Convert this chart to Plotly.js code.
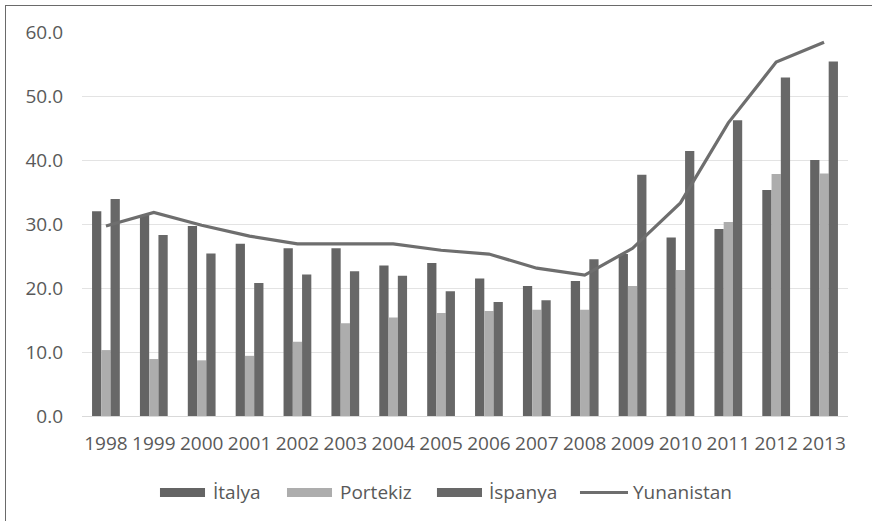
<!DOCTYPE html>
<html>
<head>
<meta charset="utf-8">
<script src="https://cdn.plot.ly/plotly-3.0.1.min.js"></script>
<style>
html, body { margin: 0; padding: 0; background: #ffffff; overflow: hidden; }
#frame { position: absolute; left: 5px; top: 5px; width: 900px; height: 600px;
  border-left: 1.5px solid #6a6a6a; border-top: 1.5px solid #6a6a6a; pointer-events: none; z-index: 5; }
#chart { position: absolute; left: 0; top: 0; width: 872px; height: 521px; }
</style>
</head>
<body>
<div id="chart"></div>
<div id="frame"></div>
<script>
const years = ['1998','1999','2000','2001','2002','2003','2004','2005','2006','2007','2008','2009','2010','2011','2012','2013'];
const seriesNames = ['İtalya', 'Portekiz', 'İspanya', 'Yunanistan'];
const italya   = [32.0, 31.4, 29.7, 26.9, 26.2, 26.2, 23.5, 23.9, 21.5, 20.3, 21.1, 25.3, 27.9, 29.2, 35.3, 40.0];
const portekiz = [10.3,  8.9,  8.7,  9.4, 11.6, 14.5, 15.4, 16.1, 16.4, 16.6, 16.6, 20.3, 22.8, 30.3, 37.8, 37.9];
const ispanya  = [33.9, 28.3, 25.4, 20.8, 22.1, 22.6, 21.9, 19.5, 17.8, 18.1, 24.5, 37.7, 41.4, 46.2, 52.9, 55.4];
const yunanistan = [29.7, 31.8, 29.8, 28.1, 26.9, 26.9, 26.9, 25.9, 25.3, 23.1, 22.0, 26.2, 33.3, 45.8, 55.3, 58.4];

const colDark = '#646464';
const colLight = '#adadad';
const colSpain = '#686868';
const colLine = '#6e6e6e';
const textCol = '#595959';
const fontFam = '"Open Sans", "DejaVu Sans", sans-serif';

const traces = [
  { type: 'bar', name: seriesNames[0], x: years, y: italya, marker: { color: colDark } },
  { type: 'bar', name: seriesNames[1], x: years, y: portekiz, marker: { color: colLight } },
  { type: 'bar', name: seriesNames[2], x: years, y: ispanya, marker: { color: colSpain } },
  { type: 'scatter', mode: 'lines', name: seriesNames[3], x: years, y: yunanistan,
    line: { color: colLine, width: 3.2 } }
];

// custom legend (swatch geometry in paper coords)
const legY = -0.199;
const legItems = [
  { x0: 0.1018, x1: 0.1606, tx: 0.1684, kind: 'bar', color: colDark },
  { x0: 0.2676, x1: 0.3264, tx: 0.3342, kind: 'bar', color: colLight },
  { x0: 0.4634, x1: 0.5222, tx: 0.5287, kind: 'bar', color: colSpain },
  { x0: 0.6501, x1: 0.7128, tx: 0.7167, kind: 'line', color: colLine }
];
const shapes = [];
const annotations = [];
legItems.forEach((it, i) => {
  if (it.kind === 'bar') {
    shapes.push({ type: 'rect', xref: 'paper', yref: 'paper', x0: it.x0, x1: it.x1,
      y0: legY - 0.0117, y1: legY + 0.0117, fillcolor: it.color, line: { width: 0 } });
  } else {
    shapes.push({ type: 'line', xref: 'paper', yref: 'paper', x0: it.x0, x1: it.x1,
      y0: legY, y1: legY, line: { color: it.color, width: 3 } });
  }
  annotations.push({ xref: 'paper', yref: 'paper', x: it.tx, y: legY, xanchor: 'left', yanchor: 'middle',
    text: seriesNames[i], showarrow: false, font: { family: fontFam, size: 19, color: textCol } });
});

const layout = {
  width: 872, height: 521,
  margin: { l: 82, r: 24, t: 32, b: 105.3, pad: 0 },
  paper_bgcolor: '#ffffff', plot_bgcolor: '#ffffff',
  showlegend: false,
  barmode: 'group', bargap: 0.42, bargroupgap: 0,
  font: { family: fontFam, size: 19, color: textCol },
  xaxis: { type: 'category', tickangle: 0, showgrid: false, zeroline: false,
    showline: true, linecolor: '#d9d9d9', linewidth: 1, ticks: '',
    ticklabelstandoff: 10, tickfont: { family: fontFam, size: 19, color: textCol } },
  yaxis: { range: [0, 60], dtick: 10, tick0: 0, tickformat: '.1f', showgrid: true,
    gridcolor: '#e3e3e3', gridwidth: 1, zeroline: false, showline: false, ticks: '',
    ticklabelstandoff: 18, tickfont: { family: fontFam, size: 19, color: textCol } },
  shapes: shapes,
  annotations: annotations
};

Plotly.newPlot('chart', traces, layout, { displayModeBar: false, staticPlot: true });
</script>
</body>
</html>
